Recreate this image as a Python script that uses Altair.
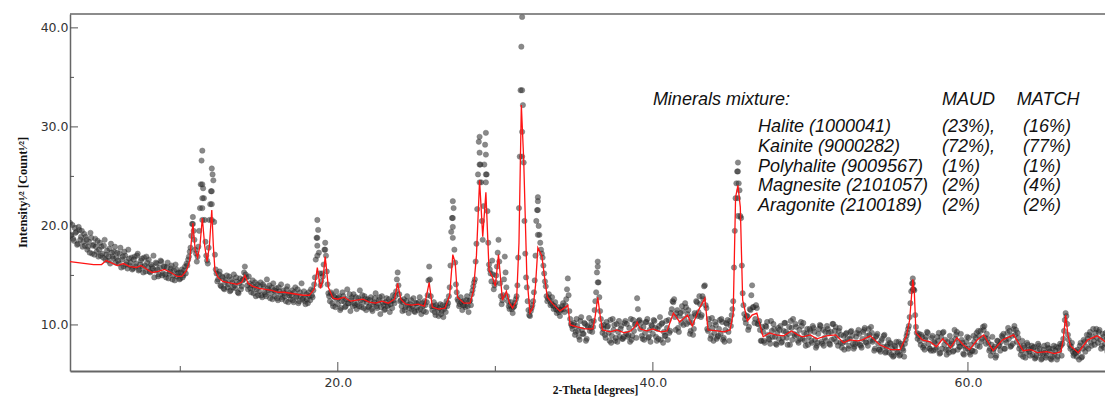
import altair as alt
import pandas as pd

# ---- calculated (fitted) profile ----
calc_x = [3.0, 3.5, 4.0, 4.5, 5.0, 5.3, 5.6, 6.0, 6.4, 6.8, 7.2, 7.5, 7.8, 8.2, 8.6, 9.0, 9.4, 9.8,
          10.1, 10.4, 10.6, 10.8, 10.95, 11.1, 11.25, 11.4, 11.55, 11.7, 11.85, 12.0, 12.1, 12.2,
          12.4, 12.7, 13.0, 13.3, 13.6, 13.9, 14.1, 14.3, 14.6, 15.0, 15.4, 15.8, 16.2, 16.6, 17.0,
          17.4, 17.8, 18.2, 18.5, 18.7, 18.9, 19.05, 19.2, 19.4, 19.7, 20.0, 20.4, 20.8, 21.2, 21.6,
          22.0, 22.4, 22.8, 23.2, 23.6, 23.8, 24.0, 24.3, 24.7, 25.1, 25.5, 25.8, 26.0, 26.4, 26.8,
          27.1, 27.3, 27.45, 27.6, 28.0, 28.4, 28.6, 28.8, 29.0, 29.2, 29.4, 29.6, 29.8, 30.0, 30.2,
          30.45, 30.7, 30.9, 31.1, 31.35, 31.5, 31.65, 31.8, 32.0, 32.2, 32.4, 32.55, 32.7, 32.95,
          33.15, 33.3, 33.6, 34.1, 34.45, 34.6, 34.75, 35.2, 35.7, 36.2, 36.35, 36.5, 36.65, 36.8,
          37.3, 37.7, 38.2, 38.6, 38.85, 39.0, 39.2, 39.6, 40.0, 40.5, 40.9, 41.3, 41.7, 42.2, 42.5,
          42.9, 43.3, 43.5, 44.1, 44.5, 44.9, 45.1, 45.25, 45.4, 45.55, 45.7, 46.0, 46.3, 46.6, 47.0,
          47.4, 47.8, 48.3, 48.8, 49.2, 49.5, 50.0, 50.4, 51.0, 51.6, 52.1, 52.5, 53.0, 53.3, 53.8,
          54.4, 55.1, 55.7, 56.1, 56.3, 56.5, 56.6, 56.7, 57.1, 57.6, 58.0, 58.4, 58.9, 59.3, 59.7,
          60.1, 60.6, 61.0, 61.6, 62.2, 62.9, 63.5, 64.0, 64.4, 65.0, 65.5, 65.9, 66.05, 66.2, 66.35,
          66.5, 67.0, 67.6, 68.2, 68.8, 69.2]
calc_y = [16.4, 16.3, 16.2, 16.1, 16.1, 16.5, 16.3, 16.0, 16.2, 15.9, 15.8, 16.0, 15.7, 15.3, 15.4,
          15.6, 15.3, 14.9, 14.9, 15.5, 16.5, 20.3, 17.5, 16.8, 18.0, 20.8, 18.0, 16.4, 18.0, 21.6,
          18.0, 15.5, 14.8, 14.4, 14.3, 14.2, 14.1, 14.3, 15.0, 14.2, 13.9, 13.7, 13.6, 13.5, 13.3,
          13.3, 13.2, 13.1, 13.0, 13.0, 13.6, 15.8, 13.7, 14.5, 16.9, 13.8, 12.7, 12.6, 12.8, 12.4,
          12.5, 12.6, 12.3, 12.2, 12.4, 12.2, 12.6, 14.2, 12.6, 12.1, 12.0, 12.1, 11.9, 14.3, 11.8,
          11.6, 11.7, 13.0, 17.1, 16.3, 12.8, 12.2, 12.2, 13.4, 17.0, 24.6, 18.9, 23.4, 15.5, 14.9,
          13.9, 17.1, 12.5, 13.4, 12.2, 11.7, 12.5, 18.3, 32.2, 26.7, 14.9, 11.2, 11.8, 14.0, 17.8,
          17.0, 14.5, 12.8, 12.2, 11.4, 11.8, 12.0, 10.0, 9.8, 9.6, 9.6, 11.0, 12.8, 11.0, 9.5, 9.3,
          9.5, 9.2, 9.4, 9.8, 10.3, 9.6, 9.4, 9.6, 9.3, 9.4, 11.2, 10.3, 11.0, 9.9, 11.5, 12.7, 9.5,
          9.4, 9.3, 9.5, 11.2, 22.9, 24.1, 21.9, 12.5, 10.4, 11.0, 11.2, 8.8, 9.2, 9.0, 8.9, 9.4,
          9.0, 8.8, 9.0, 8.6, 8.9, 9.0, 8.2, 8.5, 8.4, 8.5, 8.9, 8.0, 7.5, 7.5, 8.9, 10.5, 14.6,
          13.2, 9.2, 8.5, 8.3, 7.8, 8.6, 7.7, 8.7, 8.0, 7.5, 8.5, 9.0, 7.4, 8.5, 9.0, 7.4, 7.5, 7.2,
          7.3, 7.1, 7.3, 8.5, 11.0, 9.0, 7.9, 7.2, 8.5, 8.9, 8.2, 8.0]

# ---- observed intensities, first pass: values at whole degree + 0.0, 0.1, ... 0.9 ----
obs_by_degree = {
    3: [20.3, 19.1, 18.7, 19.8, 19.4, 18.2, 19.6, 18.9, 17.9, 19.2],
    4: [18.9, 17.6, 18.4, 19.3, 17.2, 18.1, 18.7, 17.4, 16.9, 18.3],
    5: [17.9, 16.8, 18.6, 17.1, 16.5, 17.7, 18.2, 16.9, 17.4, 16.3],
    6: [17.3, 16.2, 17.8, 16.6, 15.9, 17.0, 16.4, 17.6, 16.0, 16.8],
    7: [15.7, 16.9, 16.2, 17.2, 15.6, 16.5, 15.9, 16.8, 15.4, 16.3],
    8: [16.6, 15.3, 15.9, 17.0, 15.5, 16.2, 14.9, 15.8, 16.4, 15.2],
    9: [15.9, 14.8, 16.3, 15.2, 15.7, 14.6, 15.5, 16.1, 14.9, 15.3],
    10: [14.7, 15.6, 15.0, 15.9, 16.2, 16.6, 17.4, 19.0, 20.9, 18.6],
    11: [17.2, 16.9, 19.5, 24.2, 27.6, 22.8, 18.4, 16.5, 17.8, 22.2],
    12: [25.8, 24.6, 17.1, 15.2, 14.6, 15.4, 13.9, 14.8, 13.6, 14.5],
    13: [13.8, 14.9, 13.5, 14.3, 15.1, 13.7, 14.4, 13.2, 14.7, 13.9],
    14: [14.6, 15.9, 14.8, 13.6, 14.2, 13.3, 14.5, 13.8, 12.9, 14.1],
    15: [13.4, 14.3, 12.8, 13.9, 13.1, 14.6, 13.5, 12.7, 13.8, 14.2],
    16: [12.9, 13.7, 12.5, 13.4, 14.1, 12.8, 13.2, 12.4, 13.9, 13.0],
    17: [12.6, 13.5, 12.3, 13.8, 12.9, 12.2, 13.3, 14.2, 12.7, 12.4],
    18: [13.1, 12.2, 12.9, 13.6, 12.8, 14.1, 16.6, 20.6, 17.3, 14.0],
    19: [15.2, 16.1, 18.3, 15.4, 13.2, 12.4, 13.1, 11.9, 12.8, 13.4],
    20: [12.1, 12.9, 11.7, 13.3, 12.4, 11.9, 13.6, 12.2, 11.4, 12.8],
    21: [13.1, 12.0, 11.6, 12.7, 13.5, 11.8, 12.3, 12.9, 11.5, 12.6],
    22: [11.9, 12.8, 11.4, 12.3, 13.2, 11.7, 12.5, 11.1, 12.9, 12.0],
    23: [11.6, 12.7, 12.0, 11.3, 12.4, 13.0, 12.2, 13.4, 15.3, 13.1],
    24: [12.5, 11.4, 12.6, 11.8, 12.9, 11.2, 12.1, 11.6, 12.7, 11.3],
    25: [12.2, 11.5, 12.8, 11.1, 11.9, 12.4, 11.3, 13.0, 15.9, 12.9],
    26: [11.5, 12.3, 11.0, 11.8, 10.9, 12.1, 11.4, 10.8, 11.9, 12.4],
    27: [12.2, 13.8, 19.4, 22.5, 17.6, 14.1, 12.6, 11.9, 12.8, 11.5],
    28: [12.4, 11.8, 12.9, 11.3, 12.5, 13.1, 13.9, 14.6, 18.2, 25.2],
    29: [29.0, 24.4, 18.6, 26.2, 29.4, 21.5, 16.1, 15.2, 16.5, 13.6],
    30: [14.3, 15.9, 18.6, 14.2, 12.1, 13.0, 16.9, 13.8, 12.4, 11.6],
    31: [12.3, 11.2, 11.9, 12.6, 14.0, 21.8, 33.7, 41.1, 26.4, 17.2],
    32: [13.8, 11.5, 10.9, 11.7, 12.4, 14.5, 20.5, 22.9, 19.1, 17.6],
    33: [16.8, 15.2, 13.9, 12.4, 13.1, 12.0, 12.8, 11.6, 12.3, 11.2],
    34: [11.8, 10.9, 11.6, 12.2, 11.3, 12.6, 14.7, 11.4, 10.1, 9.6],
    35: [10.2, 9.3, 9.9, 8.8, 10.4, 9.5, 9.1, 10.1, 8.6, 9.8],
    36: [9.4, 10.3, 9.8, 11.5, 13.3, 16.4, 12.8, 10.6, 9.2, 10.0],
    37: [8.7, 9.8, 9.2, 10.5, 8.9, 9.5, 8.4, 10.1, 9.3, 8.8],
    38: [9.9, 8.6, 10.2, 9.1, 8.8, 9.7, 10.6, 8.9, 9.4, 10.1],
    39: [12.7, 10.4, 9.6, 8.9, 9.8, 9.2, 10.3, 8.7, 9.5, 10.0],
    40: [9.1, 10.4, 8.8, 9.6, 9.9, 8.5, 10.2, 9.3, 8.9, 9.7],
    41: [10.5, 9.4, 11.6, 12.3, 10.8, 11.2, 9.7, 10.9, 10.2, 11.4],
    42: [10.6, 11.8, 11.1, 10.3, 9.4, 10.2, 9.6, 11.0, 12.3, 11.3],
    43: [12.1, 11.0, 12.6, 14.0, 11.7, 9.4, 10.1, 8.9, 9.7, 9.2],
    44: [10.0, 8.8, 9.6, 9.1, 10.3, 8.7, 9.5, 10.1, 9.3, 10.4],
    45: [11.0, 12.4, 19.5, 24.3, 26.4, 23.6, 20.8, 13.2, 11.1, 10.2],
    46: [10.9, 9.8, 11.5, 14.0, 11.8, 10.6, 11.7, 10.1, 9.5, 8.4],
    47: [9.3, 8.2, 9.8, 9.0, 8.5, 10.4, 8.8, 9.6, 8.1, 9.2],
    48: [8.6, 9.9, 8.3, 9.4, 10.2, 8.7, 9.1, 8.0, 9.7, 10.6],
    49: [8.9, 9.8, 8.4, 9.5, 10.3, 8.6, 9.2, 7.9, 9.6, 8.8],
    50: [9.4, 8.2, 9.7, 8.5, 7.9, 9.1, 10.0, 8.3, 9.5, 8.7],
    51: [8.4, 9.6, 8.1, 9.3, 10.1, 8.6, 9.8, 8.9, 9.4, 8.2],
    52: [7.7, 8.9, 8.3, 9.2, 7.6, 8.6, 9.4, 8.1, 7.8, 8.8],
    53: [8.2, 9.1, 7.9, 8.6, 9.5, 8.3, 8.9, 9.6, 8.4, 9.2],
    54: [8.5, 7.6, 8.9, 8.1, 7.5, 8.4, 7.8, 9.0, 7.3, 8.0],
    55: [7.2, 8.1, 7.6, 6.9, 7.8, 7.3, 8.3, 7.0, 7.9, 7.4],
    56: [8.1, 8.9, 9.6, 10.8, 13.4, 14.7, 13.5, 9.8, 8.6, 9.1],
    57: [8.0, 8.8, 7.9, 8.5, 9.3, 8.1, 7.6, 8.7, 7.4, 8.2],
    58: [7.7, 8.4, 7.1, 8.8, 9.2, 8.0, 7.5, 8.3, 7.2, 7.9],
    59: [8.1, 7.4, 8.6, 9.3, 8.2, 7.8, 8.5, 7.1, 7.9, 8.3],
    60: [7.6, 7.2, 8.0, 7.4, 8.3, 8.7, 7.9, 8.9, 9.4, 8.6],
    61: [9.5, 8.7, 9.1, 8.2, 7.6, 8.0, 7.3, 7.8, 6.9, 8.4],
    62: [7.9, 8.3, 8.8, 7.6, 8.5, 9.2, 8.6, 7.8, 8.9, 9.6],
    63: [9.0, 8.3, 8.7, 7.9, 7.4, 6.8, 7.7, 7.2, 8.0, 7.3],
    64: [7.6, 7.0, 7.8, 6.7, 7.4, 7.9, 7.1, 6.6, 7.5, 7.2],
    65: [6.9, 7.7, 7.3, 6.5, 7.6, 7.0, 7.8, 6.8, 7.4, 7.9],
    66: [8.1, 9.4, 11.2, 10.1, 8.5, 7.6, 8.2, 6.9, 7.4, 6.8],
    67: [7.3, 7.9, 6.7, 7.6, 8.3, 7.8, 8.6, 9.0, 8.2, 8.8],
    68: [8.4, 9.2, 8.7, 9.3, 8.5, 7.9, 8.8, 8.1, 8.6, 7.7],
    69: [8.3, 7.8, 8.5],
}

# ---- observed intensities, second pass: values at whole degree + 0.05, 0.15, ... 0.95 ----
obs_by_degree_mid = {
    3: [19.0, 20.1, 18.5, 19.3, 18.1, 19.9, 18.6, 19.5, 18.4, 18.0],
    4: [18.6, 17.9, 17.3, 18.8, 18.0, 17.1, 17.9, 18.5, 17.6, 17.0],
    5: [17.2, 18.0, 16.6, 17.5, 16.9, 16.2, 17.3, 16.7, 17.9, 16.8],
    6: [16.5, 17.2, 15.8, 16.9, 17.4, 16.1, 15.7, 16.7, 16.3, 15.6],
    7: [16.6, 15.9, 17.0, 15.5, 16.1, 16.7, 15.3, 16.0, 16.9, 15.8],
    8: [15.4, 16.1, 15.7, 14.8, 16.3, 15.6, 15.1, 16.5, 15.0, 15.9],
    9: [15.1, 15.8, 14.7, 15.4, 16.0, 15.0, 14.5, 15.6, 15.2, 14.6],
    10: [15.3, 14.8, 15.5, 15.2, 16.0, 16.9, 17.8, 20.2, 19.5, 17.6],
    11: [16.4, 17.9, 21.8, 26.6, 23.8, 20.6, 17.0, 16.2, 20.6, 23.5],
    12: [25.2, 20.4, 15.6, 14.4, 15.1, 14.0, 14.9, 13.7, 14.3, 15.0],
    13: [14.1, 13.4, 14.6, 13.8, 14.0, 14.8, 13.3, 14.2, 13.6, 14.5],
    14: [15.3, 15.1, 14.0, 14.9, 13.7, 14.0, 13.2, 14.3, 13.6, 13.0],
    15: [13.9, 13.0, 14.1, 13.3, 12.9, 13.7, 14.0, 13.2, 12.6, 13.5],
    16: [13.4, 12.7, 13.8, 13.1, 12.6, 13.5, 12.9, 13.6, 12.3, 13.2],
    17: [13.0, 12.5, 13.3, 12.8, 13.6, 12.4, 12.9, 12.6, 13.4, 12.1],
    18: [12.6, 13.3, 12.5, 13.0, 13.5, 14.8, 18.8, 19.6, 15.2, 14.4],
    19: [14.9, 17.6, 17.0, 14.1, 12.9, 13.3, 12.2, 12.9, 11.8, 12.6],
    20: [12.7, 11.5, 12.4, 12.9, 11.8, 12.6, 12.2, 13.1, 12.5, 11.9],
    21: [12.2, 12.8, 12.1, 11.9, 12.5, 13.0, 11.7, 12.6, 12.3, 11.8],
    22: [12.5, 11.6, 12.1, 12.7, 11.9, 12.2, 12.8, 11.8, 12.3, 11.5],
    23: [12.3, 11.9, 12.6, 12.1, 11.7, 12.5, 12.9, 14.6, 14.0, 12.4],
    24: [11.9, 12.3, 11.5, 12.4, 12.0, 11.7, 12.5, 11.9, 11.4, 12.2],
    25: [11.8, 12.3, 11.6, 12.2, 11.4, 12.0, 12.3, 14.5, 14.6, 11.9],
    26: [11.9, 11.3, 12.0, 11.5, 11.7, 11.1, 12.0, 11.6, 11.3, 11.9],
    27: [12.9, 16.0, 20.8, 21.8, 16.3, 13.3, 12.4, 12.1, 12.3, 12.0],
    28: [12.0, 12.5, 11.9, 12.4, 12.0, 13.5, 14.3, 16.4, 21.7, 28.5],
    29: [26.2, 20.5, 22.0, 28.2, 25.2, 18.3, 15.6, 14.4, 15.1, 14.0],
    30: [15.0, 17.3, 16.4, 12.9, 12.5, 14.6, 15.3, 12.9, 11.9, 12.0],
    31: [11.6, 11.8, 12.2, 12.9, 16.8, 27.0, 38.1, 32.2, 20.5, 14.8],
    32: [12.4, 11.0, 11.4, 12.0, 13.3, 17.0, 21.6, 20.0, 18.3, 17.2],
    33: [16.0, 14.4, 12.9, 12.7, 12.5, 12.2, 12.0, 11.9, 11.6, 11.5],
    34: [11.3, 11.5, 11.9, 11.6, 12.0, 13.6, 13.0, 10.6, 9.9, 10.0],
    35: [9.0, 10.6, 9.4, 8.5, 10.8, 9.1, 10.2, 8.4, 9.9, 10.7],
    36: [9.7, 9.3, 10.4, 12.4, 15.3, 14.3, 11.4, 9.9, 9.6, 9.0],
    37: [10.3, 9.9, 8.4, 8.2, 10.6, 10.0, 8.7, 8.3, 10.4, 9.6],
    38: [8.6, 8.8, 10.4, 10.1, 9.0, 8.3, 8.5, 10.5, 10.0, 8.7],
    39: [11.6, 10.5, 10.2, 8.6, 8.5, 10.3, 10.6, 8.8, 8.3, 9.9],
    40: [10.5, 9.7, 8.4, 8.6, 10.8, 10.1, 8.2, 8.9, 10.4, 8.5],
    41: [9.2, 11.2, 12.4, 12.6, 9.5, 11.5, 9.3, 11.2, 11.9, 10.0],
    42: [12.2, 10.1, 11.5, 9.1, 10.8, 9.0, 11.2, 12.4, 10.9, 12.9],
    43: [10.8, 12.9, 13.9, 12.0, 9.6, 10.6, 8.6, 10.7, 8.4, 10.3],
    44: [8.6, 8.9, 10.5, 10.6, 8.5, 8.3, 10.2, 10.5, 8.4, 9.9],
    45: [11.6, 15.8, 22.8, 25.5, 24.3, 21.0, 16.0, 12.0, 10.6, 10.9],
    46: [9.5, 11.6, 13.0, 11.8, 10.2, 12.0, 10.1, 10.4, 8.4, 9.8],
    47: [8.4, 9.9, 10.3, 8.6, 8.1, 9.4, 10.1, 8.8, 8.0, 9.7],
    48: [9.5, 8.2, 8.7, 10.2, 9.3, 8.0, 9.8, 10.4, 8.5, 9.1],
    49: [10.1, 9.0, 8.2, 8.6, 9.9, 10.2, 8.4, 9.1, 8.0, 9.6],
    50: [8.4, 9.9, 9.3, 7.7, 8.2, 9.6, 9.9, 8.1, 7.9, 9.3],
    51: [9.9, 9.2, 8.0, 8.5, 10.1, 9.4, 8.3, 7.9, 9.7, 9.0],
    52: [8.2, 7.5, 9.1, 8.6, 7.9, 9.3, 8.9, 7.6, 8.1, 9.2],
    53: [9.5, 8.0, 7.7, 9.3, 9.7, 8.2, 7.9, 9.0, 9.8, 8.3],
    54: [7.4, 8.8, 9.1, 7.5, 7.3, 8.6, 8.9, 7.2, 7.8, 8.5],
    55: [8.2, 7.0, 6.8, 7.9, 8.3, 7.2, 6.9, 8.1, 7.6, 6.8],
    56: [8.5, 9.2, 9.9, 12.2, 14.2, 13.6, 11.0, 9.2, 8.9, 8.4],
    57: [9.0, 7.7, 7.5, 8.8, 9.2, 7.6, 7.4, 8.9, 8.3, 7.5],
    58: [8.8, 9.2, 7.2, 7.6, 9.3, 8.5, 7.0, 7.5, 8.9, 8.4],
    59: [7.3, 9.5, 9.0, 7.5, 7.8, 9.1, 8.2, 7.0, 7.6, 8.8],
    60: [8.7, 7.0, 7.4, 8.9, 7.3, 9.2, 9.4, 7.8, 8.3, 9.8],
    61: [9.9, 8.1, 8.6, 7.4, 6.9, 8.8, 7.6, 6.7, 8.4, 7.9],
    62: [7.4, 8.9, 9.1, 7.6, 8.2, 9.7, 9.4, 7.9, 8.1, 9.9],
    63: [9.5, 9.2, 7.6, 7.0, 8.4, 7.9, 6.7, 8.2, 7.5, 6.9],
    64: [7.9, 7.7, 6.6, 6.9, 8.1, 7.6, 6.5, 7.1, 7.9, 6.7],
    65: [8.0, 7.6, 6.6, 6.8, 7.9, 7.4, 6.5, 7.7, 8.1, 6.9],
    66: [8.6, 10.5, 10.9, 9.0, 8.0, 7.8, 7.3, 7.1, 7.2, 7.5],
    67: [6.5, 8.2, 6.8, 8.5, 7.3, 9.0, 7.6, 9.3, 7.9, 9.6],
    68: [8.0, 9.6, 8.2, 9.5, 7.6, 9.1, 7.7, 9.2, 7.3, 8.9],
    69: [8.1, 8.0],
}

# extra observed points stacked at the strong reflections
peak_x = [10.8, 11.4, 11.4, 11.4, 11.4, 12.0, 12.0, 12.0,
          18.7, 18.7, 18.7, 19.2, 27.3, 27.3, 27.3,
          29.0, 29.0, 29.0, 29.4, 29.4, 29.4,
          31.7, 31.7, 31.7, 32.7, 32.7, 32.7,
          36.5, 36.5, 45.4, 45.4, 45.4, 56.5, 56.5]
peak_y = [20.2, 24.2, 22.8, 21.8, 20.6, 23.5, 22.2, 20.6,
          18.8, 18.0, 17.0, 17.6, 20.8, 19.9, 18.8,
          27.4, 26.2, 24.4, 27.2, 25.2, 24.4,
          33.7, 29.5, 27.0, 22.5, 21.6, 19.1,
          15.9, 14.3, 25.5, 22.8, 21.0, 14.2, 13.6]

# axis ticks and annotation text
x_major = [20, 40, 60]
x_minor = [10, 30, 50]
y_major = [10, 20, 30, 40]
y_minor = [15, 25, 35]

minerals = ["Halite (1000041)", "Kainite (9000282)", "Polyhalite (9009567)",
            "Magnesite (2101057)", "Aragonite (2100189)"]
maud = ["(23%),", "(72%),", "(1%)", "(2%)", "(2%)"]
match = ["(16%)", "(77%)", "(1%)", "(4%)", "(2%)"]
row_y = [30.0, 28.0, 26.0, 24.0, 22.0]

# ---- tables ----
obs_rows = []
for deg, vals in obs_by_degree.items():
    for k, v in enumerate(vals):
        obs_rows.append({"two_theta": round(deg + k / 10, 2), "intensity": v})
for deg, vals in obs_by_degree_mid.items():
    for k, v in enumerate(vals):
        obs_rows.append({"two_theta": round(deg + k / 10 + 0.05, 3), "intensity": v})
for px_, py_ in zip(peak_x, peak_y):
    obs_rows.append({"two_theta": px_, "intensity": py_})
obs_df = pd.DataFrame(obs_rows)
calc_df = pd.DataFrame({"two_theta": calc_x, "intensity": calc_y})

W, H = 1035, 357
x_scale = alt.Scale(domain=[3.0, 68.7], nice=False, zero=False)
y_scale = alt.Scale(domain=[5.35, 41.4], nice=False, zero=False)

FONT_TICK = "DejaVu Sans"
FONT_TITLE = "Liberation Serif"

x_enc = alt.X("two_theta:Q", scale=x_scale,
              axis=alt.Axis(values=x_major, format=".1f", ticks=False, grid=False,
                            labelFont=FONT_TICK, labelFontSize=12.5, labelColor="#333",
                            labelPadding=5, domainColor="#666", domainWidth=2,
                            title="2-Theta [degrees]", titleFont=FONT_TITLE, titleFontSize=11.5,
                            titleFontWeight="bold", titleColor="#111",
                            titleX=525, titleY=19, titleAlign="center", titleBaseline="middle"))
y_enc = alt.Y("intensity:Q", scale=y_scale,
              axis=alt.Axis(values=y_major, format=".1f", ticks=False, grid=False,
                            labelFont=FONT_TICK, labelFontSize=12.5, labelColor="#333",
                            labelPadding=2, domainColor="#666", domainWidth=1.5,
                            title="Intensity¹⁄² [Count¹⁄²]", titleFont=FONT_TITLE, titleFontSize=12.5,
                            titleFontWeight="bold", titleColor="#111", titleAngle=270,
                            titleX=-48, titleY=178, titleAlign="center", titleBaseline="middle"))

points = alt.Chart(obs_df).mark_circle(
    size=28, color="#3c3c3c", opacity=0.6, stroke="#111111", strokeWidth=0.5, clip=True
).encode(x=x_enc, y=y_enc)

line = alt.Chart(calc_df).mark_line(color="#ff1414", strokeWidth=1.3, clip=True).encode(
    x="two_theta:Q", y="intensity:Q")

ytick_major = alt.Chart(pd.DataFrame({"intensity": y_major})).mark_rule(color="#555", strokeWidth=1).encode(
    y="intensity:Q", x=alt.value(0), x2=alt.value(8))
ytick_minor = alt.Chart(pd.DataFrame({"intensity": y_minor})).mark_rule(color="#555", strokeWidth=1).encode(
    y="intensity:Q", x=alt.value(0), x2=alt.value(4))
xtick_major = alt.Chart(pd.DataFrame({"two_theta": x_major})).mark_rule(color="#555", strokeWidth=1).encode(
    x="two_theta:Q", y=alt.value(H), y2=alt.value(H - 9))
xtick_minor = alt.Chart(pd.DataFrame({"two_theta": x_minor})).mark_rule(color="#555", strokeWidth=1).encode(
    x="two_theta:Q", y=alt.value(H), y2=alt.value(H - 5))

top_border = alt.Chart(pd.DataFrame({"a": [0]})).mark_rule(color="#666", strokeWidth=1.5).encode(
    x=alt.value(0), x2=alt.value(W), y=alt.value(0))

header_df = pd.DataFrame({"two_theta": [40.0, 58.35, 63.1], "intensity": [32.7, 32.7, 32.7],
                          "label": ["Minerals mixture:", "MAUD", "MATCH"]})
rows_df = pd.DataFrame({
    "two_theta": [46.67] * 5 + [58.35] * 5 + [63.5] * 5,
    "intensity": row_y * 3,
    "label": minerals + maud + match,
})
text_style = dict(align="left", baseline="middle", font="Liberation Sans", fontStyle="italic",
                  fontSize=18, color="#111")
header = alt.Chart(header_df).mark_text(**text_style).encode(
    x="two_theta:Q", y="intensity:Q", text="label:N")
rows = alt.Chart(rows_df).mark_text(**text_style).encode(
    x="two_theta:Q", y="intensity:Q", text="label:N")

chart = alt.layer(
    points, line, ytick_major, ytick_minor, xtick_major, xtick_minor, top_border, header, rows
).properties(
    width=W, height=H,
    autosize=alt.AutoSizeParams(type="none"),
    padding={"left": 62, "top": 6, "right": 0, "bottom": 26},
    background="white",
).configure_view(stroke=None)

chart.save("out.html", embed_options={"renderer": "svg", "actions": False})
